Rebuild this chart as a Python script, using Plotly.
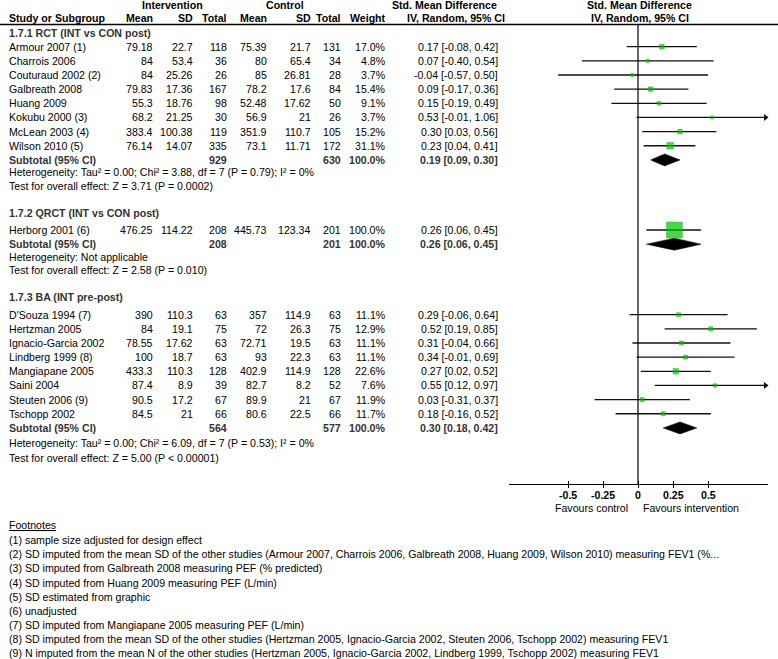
import plotly.graph_objects as go

W, H = 778, 659
FONT = "Arial, 'Liberation Sans', sans-serif"
FS = 10.6

# ---------------- data ----------------
rct_names = ["Armour 2007 (1)", "Charrois 2006", "Couturaud 2002 (2)", "Galbreath 2008",
             "Huang 2009", "Kokubu 2000 (3)", "McLean 2003 (4)", "Wilson 2010 (5)"]
rct_int_mean = [79.18, 84, 84, 79.83, 55.3, 68.2, 383.4, 76.14]
rct_int_sd = [22.7, 53.4, 25.26, 17.36, 18.76, 21.25, 100.38, 14.07]
rct_int_n = [118, 36, 26, 167, 98, 30, 119, 335]
rct_ctl_mean = [75.39, 80, 85, 78.2, 52.48, 56.9, 351.9, 73.1]
rct_ctl_sd = [21.7, 65.4, 26.81, 17.6, 17.62, 21, 110.7, 11.71]
rct_ctl_n = [131, 34, 28, 84, 50, 26, 105, 172]
rct_weight = [17.0, 4.8, 3.7, 15.4, 9.1, 3.7, 15.2, 31.1]
rct_smd = [0.17, 0.07, -0.04, 0.09, 0.15, 0.53, 0.30, 0.23]
rct_lo = [-0.08, -0.40, -0.57, -0.17, -0.19, -0.01, 0.03, 0.04]
rct_hi = [0.42, 0.54, 0.50, 0.36, 0.49, 1.06, 0.56, 0.41]
rct_sub = dict(n_int=929, n_ctl=630, weight=100.0, smd=0.19, lo=0.09, hi=0.30)

qrct_names = ["Herborg 2001 (6)"]
qrct_int_mean = [476.25]
qrct_int_sd = [114.22]
qrct_int_n = [208]
qrct_ctl_mean = [445.73]
qrct_ctl_sd = [123.34]
qrct_ctl_n = [201]
qrct_weight = [100.0]
qrct_smd = [0.26]
qrct_lo = [0.06]
qrct_hi = [0.45]
qrct_sub = dict(n_int=208, n_ctl=201, weight=100.0, smd=0.26, lo=0.06, hi=0.45)

ba_names = ["D'Souza 1994 (7)", "Hertzman 2005", "Ignacio-Garcia 2002", "Lindberg 1999 (8)",
            "Mangiapane 2005", "Saini 2004", "Steuten 2006 (9)", "Tschopp 2002"]
ba_int_mean = [390, 84, 78.55, 100, 433.3, 87.4, 90.5, 84.5]
ba_int_sd = [110.3, 19.1, 17.62, 18.7, 110.3, 8.9, 17.2, 21]
ba_int_n = [63, 75, 63, 63, 128, 39, 67, 66]
ba_ctl_mean = [357, 72, 72.71, 93, 402.9, 82.7, 89.9, 80.6]
ba_ctl_sd = [114.9, 26.3, 19.5, 22.3, 114.9, 8.2, 21, 22.5]
ba_ctl_n = [63, 75, 63, 63, 128, 52, 67, 66]
ba_weight = [11.1, 12.9, 11.1, 11.1, 22.6, 7.6, 11.9, 11.7]
ba_smd = [0.29, 0.52, 0.31, 0.34, 0.27, 0.55, 0.03, 0.18]
ba_lo = [-0.06, 0.19, -0.04, -0.01, 0.02, 0.12, -0.31, -0.16]
ba_hi = [0.64, 0.85, 0.66, 0.69, 0.52, 0.97, 0.37, 0.52]
ba_sub = dict(n_int=564, n_ctl=577, weight=100.0, smd=0.30, lo=0.18, hi=0.42)

group_titles = ["1.7.1 RCT (INT vs CON post)", "1.7.2 QRCT (INT vs CON post)", "1.7.3 BA (INT pre-post)"]
heterogeneity = ["Heterogeneity: Tau² = 0.00; Chi² = 3.88, df = 7 (P = 0.79); I² = 0%",
                 "Heterogeneity: Not applicable",
                 "Heterogeneity: Tau² = 0.00; Chi² = 6.09, df = 7 (P = 0.53); I² = 0%"]
overall = ["Test for overall effect: Z = 3.71 (P = 0.0002)",
           "Test for overall effect: Z = 2.58 (P = 0.010)",
           "Test for overall effect: Z = 5.00 (P < 0.00001)"]

tick_vals = [-0.5, -0.25, 0, 0.25, 0.5]
tick_text = ["-0.5", "-0.25", "0", "0.25", "0.5"]

footnotes = [
    "(1) sample size adjusted for design effect",
    "(2) SD imputed from the mean SD of the other studies (Armour 2007, Charrois 2006, Galbreath 2008, Huang 2009, Wilson 2010) measuring FEV1 (%...",
    "(3) SD imputed from Galbreath 2008 measuring PEF (% predicted)",
    "(4) SD imputed from Huang 2009 measuring PEF (L/min)",
    "(5) SD estimated from graphic",
    "(6) unadjusted",
    "(7) SD imputed from Mangiapane 2005 measuring PEF (L/min)",
    "(8) SD imputed from the mean SD of the other studies (Hertzman 2005, Ignacio-Garcia 2002, Steuten 2006, Tschopp 2002) measuring FEV1",
    "(9) N imputed from the mean N of the other studies (Hertzman 2005, Ignacio-Garcia 2002, Lindberg 1999, Tschopp 2002) measuring FEV1",
]

groups = [
    dict(names=rct_names, im=rct_int_mean, isd=rct_int_sd, inn=rct_int_n, cm=rct_ctl_mean,
         csd=rct_ctl_sd, cn=rct_ctl_n, w=rct_weight, smd=rct_smd, lo=rct_lo, hi=rct_hi, sub=rct_sub),
    dict(names=qrct_names, im=qrct_int_mean, isd=qrct_int_sd, inn=qrct_int_n, cm=qrct_ctl_mean,
         csd=qrct_ctl_sd, cn=qrct_ctl_n, w=qrct_weight, smd=qrct_smd, lo=qrct_lo, hi=qrct_hi, sub=qrct_sub),
    dict(names=ba_names, im=ba_int_mean, isd=ba_int_sd, inn=ba_int_n, cm=ba_ctl_mean,
         csd=ba_ctl_sd, cn=ba_ctl_n, w=ba_weight, smd=ba_smd, lo=ba_lo, hi=ba_hi, sub=ba_sub),
]

# ---------------- layout (pixel positions) ----------------
ROW = 14.15
title_y = [33, 213, 297]
first_y = [46.7, 230, 314.7]
het_y = [172, 256.5, 443]
test_y = [186.3, 270, 458]

X_NAME = 8
COL_R = [154, 194, 228, 268, 312, 342, 387]  # right edges of numeric columns
X_CI = 499
AX_L, AX_R, X0PX = 509, 768, 638
PX_PER_UNIT = 140.0
XMIN = (AX_L - X0PX) / PX_PER_UNIT
XMAX = (AX_R - X0PX) / PX_PER_UNIT
AXIS_Y = 484
HEAD_LINE_Y = 24.5
TICKLAB_Y = 494.5
FAVOURS_Y = 507.5

anns = []


def txt(x, y, s, anchor="left", bold=False, color="#000000", size=FS, xref="paper"):
    xx = x / W if xref == "paper" else x
    anns.append(dict(x=xx, y=1 - y / H, xref=xref, yref="paper", text=s,
                     showarrow=False, xanchor=anchor, yanchor="middle", borderpad=0,
                     font=dict(size=size, color=color, family=FONT,
                               weight="bold" if bold else "normal")))


def fmt(v):
    return f"{v:g}"


# headers
txt(172, 5, "Intervention", "center", True)
txt(285, 5, "Control", "center", True)
txt(444, 5, "Std. Mean Difference", "center", True)
txt(455.5, 18, "IV, Random, 95% CI", "center", True)
txt(639, 5, "Std. Mean Difference", "center", True)
txt(640, 18, "IV, Random, 95% CI", "center", True)
txt(X_NAME, 18, "Study or Subgroup", "left", True)
for xr, h in zip(COL_R, ["Mean", "SD", "Total", "Mean", "SD", "Total", "Weight"]):
    txt(xr, 18, h, "right", True)

fig = go.Figure()

line_x, line_y = [], []
sq_x, sq_y, sq_s = [], [], []
arr_x, arr_y = [], []
GREY = "#333333"

for gi, g in enumerate(groups):
    txt(X_NAME, title_y[gi], group_titles[gi], "left", True, GREY)
    n = len(g["names"])
    for i in range(n):
        y = first_y[gi] + ROW * i
        txt(X_NAME, y, g["names"][i])
        vals = [fmt(g["im"][i]), fmt(g["isd"][i]), fmt(g["inn"][i]), fmt(g["cm"][i]),
                fmt(g["csd"][i]), fmt(g["cn"][i]), f"{g['w'][i]:.1f}%"]
        for xr, v in zip(COL_R, vals):
            txt(xr, y, v, "right")
        txt(X_CI, y, f"{g['smd'][i]:.2f} [{g['lo'][i]:.2f}, {g['hi'][i]:.2f}]", "right")
        hi_c = min(g["hi"][i], XMAX)
        line_x += [g["lo"][i], hi_c, None]
        line_y += [y, y, None]
        if g["hi"][i] > XMAX:
            arr_x.append(XMAX - 0.018)
            arr_y.append(y)
        sq_x.append(g["smd"][i])
        sq_y.append(y)
        sq_s.append(2.5 + 13.5 * g["w"][i] / 100.0)
    ys = first_y[gi] + ROW * n
    s = g["sub"]
    txt(X_NAME, ys, "Subtotal (95% CI)", "left", True, GREY)
    txt(COL_R[2], ys, str(s["n_int"]), "right", True, GREY)
    txt(COL_R[5], ys, str(s["n_ctl"]), "right", True, GREY)
    txt(COL_R[6], ys, f"{s['weight']:.1f}%", "right", True, GREY)
    txt(X_CI, ys, f"{s['smd']:.2f} [{s['lo']:.2f}, {s['hi']:.2f}]", "right", True, GREY)
    fig.add_trace(go.Scatter(
        x=[s["lo"], s["smd"], s["hi"], s["smd"], s["lo"]],
        y=[ys, ys - 6, ys, ys + 6, ys],
        mode="lines", fill="toself", fillcolor="#000000",
        line=dict(color="#000000", width=0.5), hoverinfo="skip", showlegend=False))
    txt(X_NAME, het_y[gi], heterogeneity[gi])
    txt(X_NAME, test_y[gi], overall[gi])

fig.add_trace(go.Scatter(x=line_x, y=line_y, mode="lines", cliponaxis=False,
                         line=dict(color="#111111", width=1.3), hoverinfo="skip", showlegend=False))
fig.add_trace(go.Scatter(x=arr_x, y=arr_y, mode="markers", cliponaxis=False,
                         marker=dict(symbol="triangle-right", size=6, color="#111111"),
                         hoverinfo="skip", showlegend=False))
fig.add_trace(go.Scatter(x=sq_x, y=sq_y, mode="markers",
                         marker=dict(symbol="square", size=sq_s, color="#00c400",
                                     line=dict(color="#00a800", width=0.6)),
                         hoverinfo="skip", showlegend=False))
# invisible trace on overlay axis for the inner half of the ticks
fig.add_trace(go.Scatter(x=[0], y=[AXIS_Y - 100], xaxis="x2", mode="markers",
                         marker=dict(opacity=0), hoverinfo="skip", showlegend=False))

# tick labels placed on the x data scale
for tv, tt in zip(tick_vals, tick_text):
    txt(tv, TICKLAB_Y, tt, "center", True, xref="x")

# axis labels
txt(629, FAVOURS_Y, "Favours control", "right")
txt(642, FAVOURS_Y, "Favours intervention", "left")

# footnotes
txt(X_NAME, 525, "<u>Footnotes</u>")
for i, f in enumerate(footnotes):
    txt(X_NAME, 540 + 14.17 * i, f)

shapes = [
    dict(type="line", xref="paper", yref="y", x0=0, x1=1, y0=HEAD_LINE_Y, y1=HEAD_LINE_Y,
         line=dict(color="#000000", width=1.4)),
    dict(type="line", xref="x", yref="y", x0=0, x1=0, y0=HEAD_LINE_Y, y1=AXIS_Y,
         line=dict(color="#000000", width=1.2)),
]

fig.update_layout(
    width=W, height=H, margin=dict(l=0, r=0, t=0, b=0),
    paper_bgcolor="white", plot_bgcolor="white",
    font=dict(family=FONT, size=FS, color="#000000"),
    showlegend=False,
    xaxis=dict(domain=[AX_L / W, AX_R / W], range=[XMIN, XMAX], tickvals=tick_vals,
               ticks="outside", ticklen=3, tickwidth=1.2, tickcolor="#000000",
               showticklabels=False,
               showline=True, linecolor="#000000", linewidth=1.3, showgrid=False, zeroline=False,
               fixedrange=True),
    xaxis2=dict(matches="x", overlaying="x", anchor="y", side="bottom", tickvals=tick_vals,
                ticks="inside", ticklen=3, tickwidth=1.2, tickcolor="#000000",
                showticklabels=False, showline=False, showgrid=False, zeroline=False),
    yaxis=dict(domain=[1 - AXIS_Y / H, 1], range=[AXIS_Y, 0], visible=False, fixedrange=True),
    annotations=anns, shapes=shapes,
)

fig.write_html("out.html", config={"displayModeBar": False},
               post_script="document.body.style.margin='0';document.body.style.overflow='hidden';")
